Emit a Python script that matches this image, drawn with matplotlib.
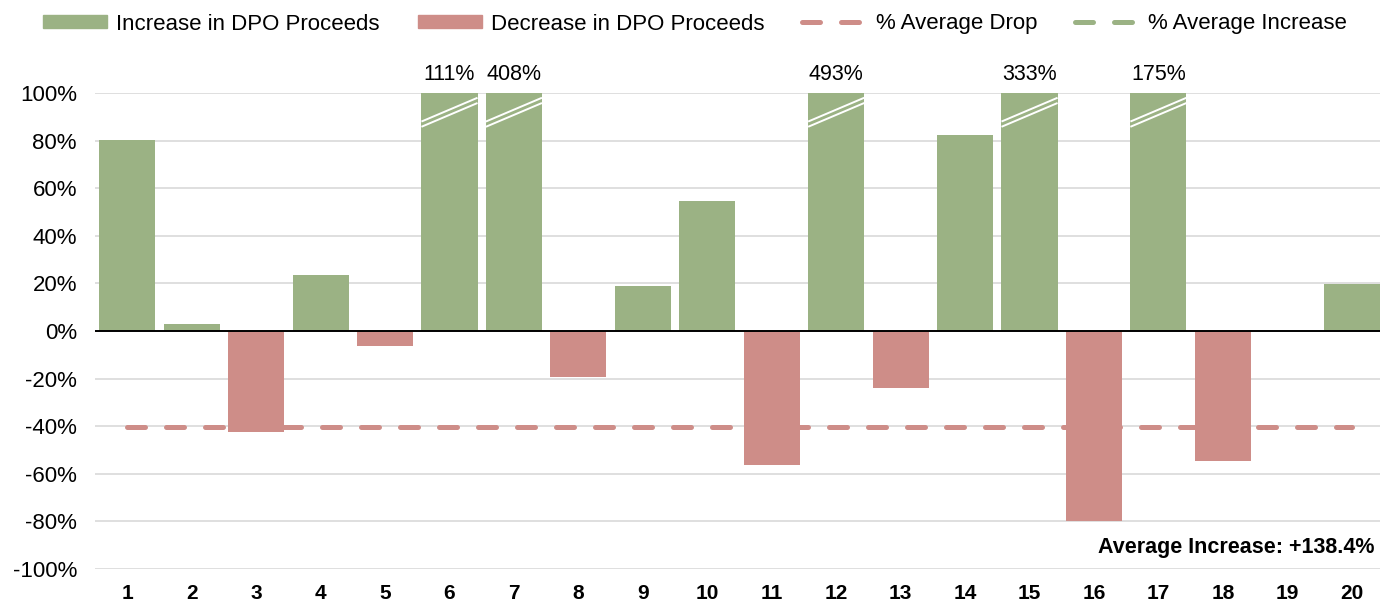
import matplotlib
matplotlib.use("Agg")
import matplotlib.pyplot as plt
from matplotlib.patches import Patch
from matplotlib.lines import Line2D
import numpy as np

plt.rcParams['font.family'] = ['Liberation Sans', 'DejaVu Sans']

categories = [str(i) for i in range(1, 21)]
values = [80.3, 3.0, -42.4, 23.5, -6.3, 111, 408, -19.3, 18.9, 54.6,
          -56.3, 493, -24.0, 82.4, 333, -79.8, 175, -54.6, 0.0, 19.7]
avg_drop = -40.4
avg_increase = 138.4
yticks = [-100, -80, -60, -40, -20, 0, 20, 40, 60, 80, 100]

GREEN = '#9BB284'
RED = '#CE8D88'

fig = plt.figure(figsize=(13.8, 6.01), dpi=100)
ax = fig.add_axes([95/1380, 1-569/601, 1289/1380, (569-93)/601])

x = np.arange(len(categories))
width = 0.87
colors = [GREEN if v >= 0 else RED for v in values]
ax.bar(x, values, width=width, color=colors, zorder=3)

cap = 100
for xi, v in zip(x, values):
    if v > cap:
        for off in (0, -2.2):
            ax.plot([xi - width/2, xi + width/2], [88 + off, 98 + off],
                    color='white', lw=1.4, zorder=4, solid_capstyle='butt')
        ax.text(xi, 103.5, f"{v:.0f}%", ha='center', va='bottom', fontsize=15.5,
                clip_on=False)

ax.plot([x[0], x[-1]], [avg_drop, avg_drop], color=RED, lw=3.6,
        linestyle=(0, (3.6, 4.2)), dash_capstyle='round', zorder=5)
ax.plot([x[0], x[-1]], [avg_increase, avg_increase], color=GREEN, lw=3.6,
        linestyle=(0, (3.6, 4.2)), dash_capstyle='round', zorder=5)

ax.axhline(0, color='black', lw=1.4, zorder=6)
ax.set_ylim(-100, 100)
ax.set_xlim(-0.5, len(categories) - 0.5)
ax.set_yticks(yticks)
ax.set_yticklabels([f"{t}%" for t in yticks], fontsize=16)
ax.set_xticks(x)
ax.set_xticklabels(categories, fontsize=15, fontweight='bold')
ax.tick_params(length=0)
ax.tick_params(axis='x', pad=11)
ax.tick_params(axis='y', pad=13)
ax.grid(axis='y', color='#D9D9D9', lw=1.2, zorder=0)
for s in ax.spines.values():
    s.set_visible(False)

fig.text(1375/1380, 1-548/601, f"Average Increase: +{avg_increase}%",
         ha='right', va='center', fontsize=15.5, fontweight='bold')

handles = [Patch(color=GREEN), Patch(color=RED),
           Line2D([0], [0], color=RED, lw=3.6, linestyle=(0, (3.6, 4.2)), dash_capstyle='round'),
           Line2D([0], [0], color=GREEN, lw=3.6, linestyle=(0, (3.6, 4.2)), dash_capstyle='round')]
labels = ['Increase in DPO Proceeds', 'Decrease in DPO Proceeds', '% Average Drop', '% Average Increase']
fig.legend(handles, labels, loc='center', bbox_to_anchor=(695/1380, 1-24/601), ncol=4,
           frameon=False, fontsize=16, handlelength=2.9, handleheight=0.5,
           handletextpad=0.4, columnspacing=1.7)

fig.savefig('out.png', dpi=100)
